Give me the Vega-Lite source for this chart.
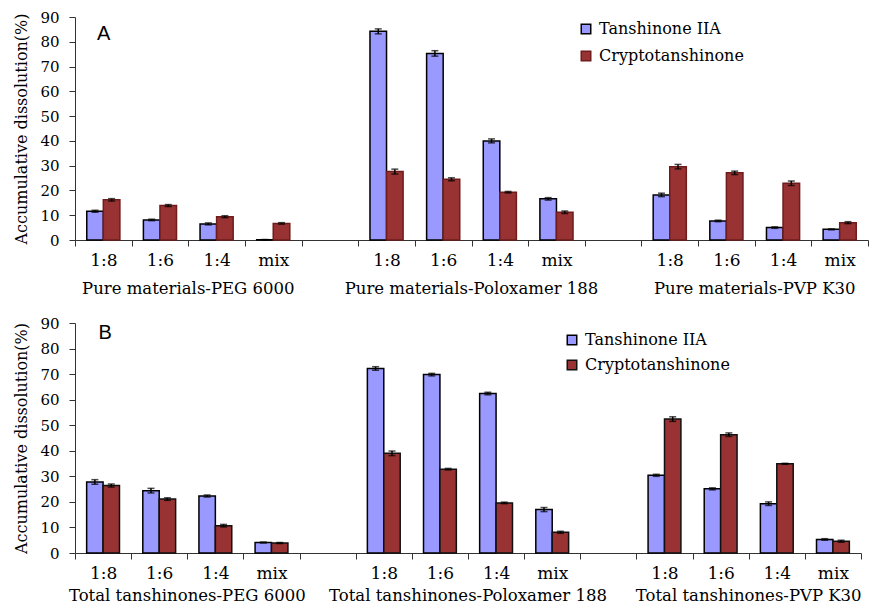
{
  "$schema": "https://vega.github.io/schema/vega-lite/v6.json",
  "padding": {"left": 13, "top": 10, "right": 0, "bottom": 0},
  "background": "white",
  "spacing": 18,
  "datasets": {
    "A": [
      {"slot": "PEG|1:8", "series": "Tanshinone IIA", "value": 11.6, "err": 0.4},
      {"slot": "PEG|1:8", "series": "Cryptotanshinone", "value": 16.2, "err": 0.5},
      {"slot": "PEG|1:6", "series": "Tanshinone IIA", "value": 8.1, "err": 0.3},
      {"slot": "PEG|1:6", "series": "Cryptotanshinone", "value": 13.9, "err": 0.4},
      {"slot": "PEG|1:4", "series": "Tanshinone IIA", "value": 6.5, "err": 0.4},
      {"slot": "PEG|1:4", "series": "Cryptotanshinone", "value": 9.4, "err": 0.4},
      {"slot": "PEG|mix", "series": "Tanshinone IIA", "value": 0.1, "err": 0.1},
      {"slot": "PEG|mix", "series": "Cryptotanshinone", "value": 6.7, "err": 0.3},
      {"slot": "POL|1:8", "series": "Tanshinone IIA", "value": 84.2, "err": 1.0},
      {"slot": "POL|1:8", "series": "Cryptotanshinone", "value": 27.6, "err": 1.0},
      {"slot": "POL|1:6", "series": "Tanshinone IIA", "value": 75.3, "err": 1.1},
      {"slot": "POL|1:6", "series": "Cryptotanshinone", "value": 24.5, "err": 0.6},
      {"slot": "POL|1:4", "series": "Tanshinone IIA", "value": 40.0, "err": 0.8},
      {"slot": "POL|1:4", "series": "Cryptotanshinone", "value": 19.3, "err": 0.3},
      {"slot": "POL|mix", "series": "Tanshinone IIA", "value": 16.6, "err": 0.5},
      {"slot": "POL|mix", "series": "Cryptotanshinone", "value": 11.2, "err": 0.5},
      {"slot": "PVP|1:8", "series": "Tanshinone IIA", "value": 18.2, "err": 0.7},
      {"slot": "PVP|1:8", "series": "Cryptotanshinone", "value": 29.6, "err": 0.9},
      {"slot": "PVP|1:6", "series": "Tanshinone IIA", "value": 7.7, "err": 0.3},
      {"slot": "PVP|1:6", "series": "Cryptotanshinone", "value": 27.1, "err": 0.7},
      {"slot": "PVP|1:4", "series": "Tanshinone IIA", "value": 5.0, "err": 0.3},
      {"slot": "PVP|1:4", "series": "Cryptotanshinone", "value": 22.9, "err": 0.9},
      {"slot": "PVP|mix", "series": "Tanshinone IIA", "value": 4.3, "err": 0.2},
      {"slot": "PVP|mix", "series": "Cryptotanshinone", "value": 7.0, "err": 0.4}
    ],
    "B": [
      {"slot": "PEG|1:8", "series": "Tanshinone IIA", "value": 27.8, "err": 0.9},
      {"slot": "PEG|1:8", "series": "Cryptotanshinone", "value": 26.4, "err": 0.6},
      {"slot": "PEG|1:6", "series": "Tanshinone IIA", "value": 24.4, "err": 0.9},
      {"slot": "PEG|1:6", "series": "Cryptotanshinone", "value": 21.1, "err": 0.5},
      {"slot": "PEG|1:4", "series": "Tanshinone IIA", "value": 22.3, "err": 0.4},
      {"slot": "PEG|1:4", "series": "Cryptotanshinone", "value": 10.7, "err": 0.5},
      {"slot": "PEG|mix", "series": "Tanshinone IIA", "value": 4.1, "err": 0.2},
      {"slot": "PEG|mix", "series": "Cryptotanshinone", "value": 3.9, "err": 0.2},
      {"slot": "POL|1:8", "series": "Tanshinone IIA", "value": 72.2, "err": 0.7},
      {"slot": "POL|1:8", "series": "Cryptotanshinone", "value": 39.0, "err": 0.9},
      {"slot": "POL|1:6", "series": "Tanshinone IIA", "value": 69.8, "err": 0.5},
      {"slot": "POL|1:6", "series": "Cryptotanshinone", "value": 32.8, "err": 0.3},
      {"slot": "POL|1:4", "series": "Tanshinone IIA", "value": 62.4, "err": 0.5},
      {"slot": "POL|1:4", "series": "Cryptotanshinone", "value": 19.6, "err": 0.3},
      {"slot": "POL|mix", "series": "Tanshinone IIA", "value": 17.0, "err": 0.8},
      {"slot": "POL|mix", "series": "Cryptotanshinone", "value": 8.1, "err": 0.4},
      {"slot": "PVP|1:8", "series": "Tanshinone IIA", "value": 30.4, "err": 0.4},
      {"slot": "PVP|1:8", "series": "Cryptotanshinone", "value": 52.4, "err": 0.9},
      {"slot": "PVP|1:6", "series": "Tanshinone IIA", "value": 25.1, "err": 0.4},
      {"slot": "PVP|1:6", "series": "Cryptotanshinone", "value": 46.3, "err": 0.7},
      {"slot": "PVP|1:4", "series": "Tanshinone IIA", "value": 19.3, "err": 0.7},
      {"slot": "PVP|1:4", "series": "Cryptotanshinone", "value": 34.9, "err": 0.2},
      {"slot": "PVP|mix", "series": "Tanshinone IIA", "value": 5.3, "err": 0.3},
      {"slot": "PVP|mix", "series": "Cryptotanshinone", "value": 4.6, "err": 0.4}
    ],
    "groupsA": [
      {"slot": "PEG|1:6", "label": "Pure materials-PEG 6000"},
      {"slot": "POL|1:6", "label": "Pure materials-Poloxamer 188"},
      {"slot": "PVP|1:6", "label": "Pure materials-PVP K30"}
    ],
    "groupsB": [
      {"slot": "PEG|1:6", "label": "Total tanshinones-PEG 6000"},
      {"slot": "POL|1:6", "label": "Total tanshinones-Poloxamer 188"},
      {"slot": "PVP|1:6", "label": "Total tanshinones-PVP K30"}
    ]
  },
  "vconcat": [
    {
      "width": 793,
      "height": 223,
      "layer": [
        {
          "data": {"name": "A"},
          "mark": {"type": "bar", "strokeWidth": 1.5},
          "encoding": {
            "x": {"field": "slot", "type": "nominal", "title": null,
              "scale": {"domain": ["PEG|1:8","PEG|1:6","PEG|1:4","PEG|mix","gap1","POL|1:8","POL|1:6","POL|1:4","POL|mix","gap2","PVP|1:8","PVP|1:6","PVP|1:4","PVP|mix"], "paddingInner": 0, "paddingOuter": 0},
              "axis": {"labelExpr": "indexof(datum.label,'gap')==0 ? '' : split(datum.label,'|')[1]", "tickBand": "extent", "tickSize": 6, "labelPadding": 6, "labelAngle": 0, "labelFontSize": 17, "labelColor": "#000000", "domainColor": "#333333", "tickColor": "#333333", "labelOverlap": false}},
            "xOffset": {"field": "series", "type": "nominal", "scale": {"domain": ["Tanshinone IIA", "Cryptotanshinone"], "paddingInner": 0, "paddingOuter": 0.71}},
            "y": {"field": "value", "type": "quantitative", "title": "Accumulative dissolution(%)",
              "scale": {"domain": [0, 90], "nice": false},
              "axis": {"values": [0,10,20,30,40,50,60,70,80,90], "tickCount": 10, "labelOverlap": false, "labelFlush": false, "labelBound": false, "tickSize": 6, "labelPadding": 10, "labelFontSize": 15, "labelColor": "#000000", "titleFontSize": 16, "titleFontWeight": "normal", "titleColor": "#000000", "titlePadding": 10, "domainColor": "#333333", "tickColor": "#333333", "grid": false}},
            "color": {"field": "series", "type": "nominal", "scale": {"domain": ["Tanshinone IIA", "Cryptotanshinone"], "range": ["#9999ff", "#993333"]},
              "legend": {"title": null, "orient": "none", "legendX": 503, "legendY": 4, "symbolType": "square", "symbolSize": 90, "symbolStrokeWidth": 1.5, "labelFontSize": 16, "labelLimit": 300, "labelColor": "#000000", "rowPadding": 11, "labelOffset": 5}},
            "stroke": {"field": "series", "type": "nominal", "scale": {"domain": ["Tanshinone IIA", "Cryptotanshinone"], "range": ["#000000", "#6e1c1c"]},
              "legend": {"title": null, "orient": "none", "legendX": 503, "legendY": 4, "symbolType": "square", "symbolSize": 90, "symbolStrokeWidth": 1.5, "labelFontSize": 16, "labelLimit": 300, "labelColor": "#000000", "rowPadding": 11, "labelOffset": 5}}
          }
        },
        {
          "data": {"name": "A"},
          "transform": [{"calculate": "datum.value - datum.err", "as": "lo"}, {"calculate": "datum.value + datum.err", "as": "hi"}],
          "mark": {"type": "rule", "color": "#000000", "strokeWidth": 1.5},
          "encoding": {
            "x": {"field": "slot", "type": "nominal"},
            "xOffset": {"field": "series", "type": "nominal"},
            "y": {"field": "lo", "type": "quantitative"},
            "y2": {"field": "hi"}
          }
        },
        {
          "data": {"name": "A"},
          "transform": [{"calculate": "datum.value - datum.err", "as": "lo"}],
          "mark": {"type": "tick", "color": "#000000", "thickness": 1.5, "size": 7, "orient": "horizontal"},
          "encoding": {
            "x": {"field": "slot", "type": "nominal"},
            "xOffset": {"field": "series", "type": "nominal"},
            "y": {"field": "lo", "type": "quantitative"}
          }
        },
        {
          "data": {"name": "A"},
          "transform": [{"calculate": "datum.value + datum.err", "as": "hi"}],
          "mark": {"type": "tick", "color": "#000000", "thickness": 1.5, "size": 7, "orient": "horizontal"},
          "encoding": {
            "x": {"field": "slot", "type": "nominal"},
            "xOffset": {"field": "series", "type": "nominal"},
            "y": {"field": "hi", "type": "quantitative"}
          }
        },
        {
          "data": {"name": "groupsA"},
          "mark": {"type": "text", "fontSize": 16.5, "baseline": "alphabetic", "align": "center", "dy": 54, "color": "#000000"},
          "encoding": {
            "x": {"field": "slot", "type": "nominal", "bandPosition": 1},
            "y": {"datum": 0, "type": "quantitative"},
            "text": {"field": "label"}
          }
        },
        {
          "data": {"values": [{"tag": "A"}]},
          "mark": {"type": "text", "font": "Liberation Sans", "fontSize": 20, "baseline": "middle", "align": "left", "color": "#000000"},
          "encoding": {
            "x": {"datum": "PEG|1:8", "type": "nominal", "bandPosition": 0.39},
            "y": {"datum": 83, "type": "quantitative"},
            "text": {"field": "tag"}
          }
        }
      ]
    },
    {
      "width": 786,
      "height": 230,
      "layer": [
        {
          "data": {"name": "B"},
          "mark": {"type": "bar", "strokeWidth": 1.5},
          "encoding": {
            "x": {"field": "slot", "type": "nominal", "title": null,
              "scale": {"domain": ["PEG|1:8","PEG|1:6","PEG|1:4","PEG|mix","gap1","POL|1:8","POL|1:6","POL|1:4","POL|mix","gap2","PVP|1:8","PVP|1:6","PVP|1:4","PVP|mix"], "paddingInner": 0, "paddingOuter": 0},
              "axis": {"labelExpr": "indexof(datum.label,'gap')==0 ? '' : split(datum.label,'|')[1]", "tickBand": "extent", "tickSize": 6, "labelPadding": 6, "labelAngle": 0, "labelFontSize": 17, "labelColor": "#000000", "domainColor": "#333333", "tickColor": "#333333", "labelOverlap": false}},
            "xOffset": {"field": "series", "type": "nominal", "scale": {"domain": ["Tanshinone IIA", "Cryptotanshinone"], "paddingInner": 0, "paddingOuter": 0.71}},
            "y": {"field": "value", "type": "quantitative", "title": "Accumulative dissolution(%)",
              "scale": {"domain": [0, 90], "nice": false},
              "axis": {"values": [0,10,20,30,40,50,60,70,80,90], "tickCount": 10, "labelOverlap": false, "labelFlush": false, "labelBound": false, "tickSize": 6, "labelPadding": 10, "labelFontSize": 15, "labelColor": "#000000", "titleFontSize": 16, "titleFontWeight": "normal", "titleColor": "#000000", "titlePadding": 10, "domainColor": "#333333", "tickColor": "#333333", "grid": false}},
            "color": {"field": "series", "type": "nominal", "scale": {"domain": ["Tanshinone IIA", "Cryptotanshinone"], "range": ["#9999ff", "#993333"]},
              "legend": {"title": null, "orient": "none", "legendX": 489, "legendY": 9, "symbolType": "square", "symbolSize": 90, "symbolStrokeWidth": 1.5, "labelFontSize": 16, "labelLimit": 300, "labelColor": "#000000", "rowPadding": 9, "labelOffset": 5}},
            "stroke": {"field": "series", "type": "nominal", "scale": {"domain": ["Tanshinone IIA", "Cryptotanshinone"], "range": ["#000000", "#111111"]},
              "legend": {"title": null, "orient": "none", "legendX": 489, "legendY": 9, "symbolType": "square", "symbolSize": 90, "symbolStrokeWidth": 1.5, "labelFontSize": 16, "labelLimit": 300, "labelColor": "#000000", "rowPadding": 9, "labelOffset": 5}}
          }
        },
        {
          "data": {"name": "B"},
          "transform": [{"calculate": "datum.value - datum.err", "as": "lo"}, {"calculate": "datum.value + datum.err", "as": "hi"}],
          "mark": {"type": "rule", "color": "#000000", "strokeWidth": 1.5},
          "encoding": {
            "x": {"field": "slot", "type": "nominal"},
            "xOffset": {"field": "series", "type": "nominal"},
            "y": {"field": "lo", "type": "quantitative"},
            "y2": {"field": "hi"}
          }
        },
        {
          "data": {"name": "B"},
          "transform": [{"calculate": "datum.value - datum.err", "as": "lo"}],
          "mark": {"type": "tick", "color": "#000000", "thickness": 1.5, "size": 7, "orient": "horizontal"},
          "encoding": {
            "x": {"field": "slot", "type": "nominal"},
            "xOffset": {"field": "series", "type": "nominal"},
            "y": {"field": "lo", "type": "quantitative"}
          }
        },
        {
          "data": {"name": "B"},
          "transform": [{"calculate": "datum.value + datum.err", "as": "hi"}],
          "mark": {"type": "tick", "color": "#000000", "thickness": 1.5, "size": 7, "orient": "horizontal"},
          "encoding": {
            "x": {"field": "slot", "type": "nominal"},
            "xOffset": {"field": "series", "type": "nominal"},
            "y": {"field": "hi", "type": "quantitative"}
          }
        },
        {
          "data": {"name": "groupsB"},
          "mark": {"type": "text", "fontSize": 16.5, "baseline": "alphabetic", "align": "center", "dy": 48, "color": "#000000"},
          "encoding": {
            "x": {"field": "slot", "type": "nominal", "bandPosition": 1},
            "y": {"datum": 0, "type": "quantitative"},
            "text": {"field": "label"}
          }
        },
        {
          "data": {"values": [{"tag": "B"}]},
          "mark": {"type": "text", "font": "Liberation Sans", "fontSize": 20, "baseline": "middle", "align": "left", "color": "#000000"},
          "encoding": {
            "x": {"datum": "PEG|1:8", "type": "nominal", "bandPosition": 0.42},
            "y": {"datum": 86, "type": "quantitative"},
            "text": {"field": "tag"}
          }
        }
      ]
    }
  ],
  "resolve": {
    "scale": {"x": "independent", "y": "independent", "color": "independent", "stroke": "independent", "xOffset": "independent"},
    "legend": {"color": "independent", "stroke": "independent"}
  },
  "config": {
    "view": {"stroke": null},
    "font": "DejaVu Serif",
    "text": {"font": "DejaVu Serif"},
    "axis": {"grid": false, "labelFont": "DejaVu Serif", "titleFont": "DejaVu Serif"},
    "axisY": {"tickCount": 10},
    "legend": {"labelFont": "DejaVu Serif"}
  }
}
